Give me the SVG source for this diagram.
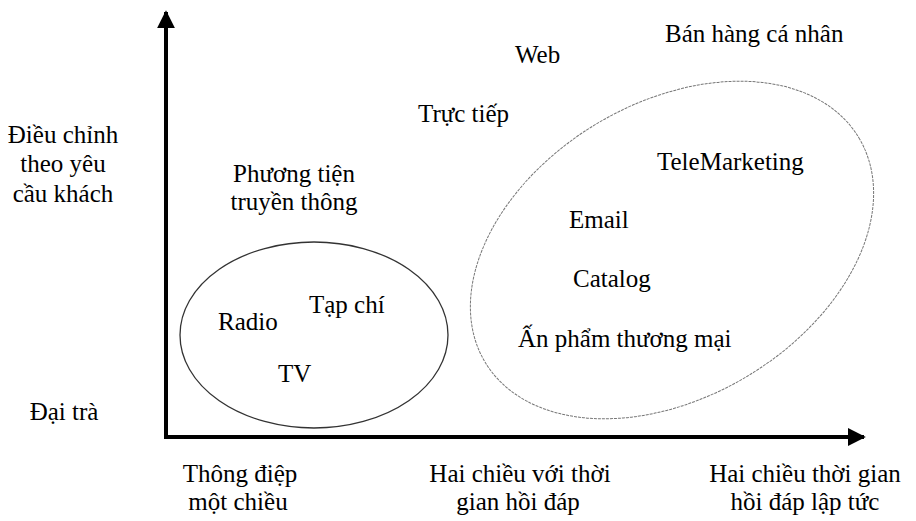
<svg xmlns="http://www.w3.org/2000/svg" width="916" height="521" viewBox="0 0 916 521" font-family="'Liberation Serif', 'Times New Roman', 'DejaVu Serif', serif">
<style>
text{font-family:'Liberation Serif','Times New Roman','DejaVu Serif',serif;font-size:25px;fill:#000;}
.c{text-anchor:middle;}
.axis{stroke:#000;stroke-width:4;fill:none;}
.grp1{fill:none;stroke:#333;stroke-width:1.3;}
.grp2{fill:none;stroke:#777;stroke-width:1;stroke-dasharray:3 1;}
</style>
<defs>
<marker id="ah" viewBox="0 0 10 10" refX="9" refY="5" markerWidth="4.5" markerHeight="4.5" orient="auto" markerUnits="strokeWidth">
<path d="M0,0 L10,5 L0,10 Z" fill="#000"/>
</marker>
</defs>
<g id="connectors">
<path class="axis" d="M166,437 L166,12" marker-end="url(#ah)"/>
<path class="axis" d="M164,437 L864,437" marker-end="url(#ah)"/>
</g>
<g id="ellipse-media"><ellipse class="grp1" cx="314" cy="335" rx="134" ry="93"/></g>
<g id="ellipse-direct"><ellipse class="grp2" cx="672" cy="250" rx="218" ry="147" transform="rotate(-31 672 250)"/></g>
<g id="y-top"><text class="c" x="63" y="143">Điều chỉnh</text><text class="c" x="63" y="172">theo yêu</text><text class="c" x="63" y="202">cầu khách</text></g>
<g id="y-bottom"><text class="c" x="64" y="420">Đại trà</text></g>
<g id="x-1"><text class="c" x="240" y="482">Thông điệp</text><text class="c" x="238" y="510">một chiều</text></g>
<g id="x-2"><text class="c" x="520" y="482">Hai chiều với thời</text><text class="c" x="518" y="510">gian hồi đáp</text></g>
<g id="x-3"><text class="c" x="805" y="482">Hai chiều thời gian</text><text class="c" x="805" y="510">hồi đáp lập tức</text></g>
<g id="media"><text class="c" x="294" y="182">Phương tiện</text><text class="c" x="294" y="210">truyền thông</text></g>
<g id="radio"><text x="218" y="330">Radio</text></g>
<g id="tapchi"><text x="309" y="313">Tạp chí</text></g>
<g id="tv"><text x="278" y="382">TV</text></g>
<g id="web"><text x="515" y="63">Web</text></g>
<g id="ban-hang"><text x="665" y="42">Bán hàng cá nhân</text></g>
<g id="truc-tiep"><text x="418" y="122">Trực tiếp</text></g>
<g id="telemarketing"><text x="657" y="170">TeleMarketing</text></g>
<g id="email"><text x="569" y="228">Email</text></g>
<g id="catalog"><text x="573" y="287">Catalog</text></g>
<g id="an-pham"><text x="518" y="347">Ấn phẩm thương mại</text></g>
</svg>
